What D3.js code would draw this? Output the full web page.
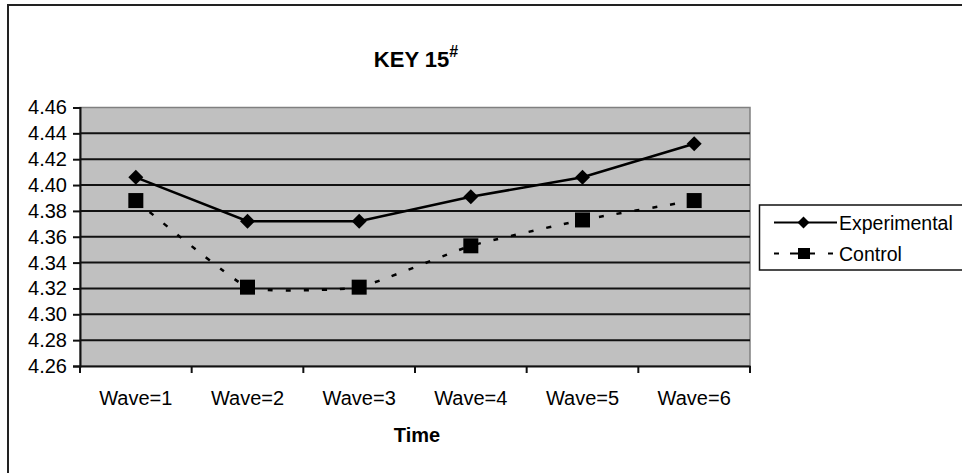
<!DOCTYPE html>
<html>
<head>
<meta charset="utf-8">
<script src="https://cdn.jsdelivr.net/npm/d3@7"></script>
<style>
  html, body { margin: 0; padding: 0; background: #fff; }
  svg { display: block; font-family: "Liberation Sans", Arial, sans-serif; }
</style>
</head>
<body>
<svg id="chart" width="962" height="473"></svg>
<script>
const categories = ["Wave=1", "Wave=2", "Wave=3", "Wave=4", "Wave=5", "Wave=6"];
const experimental = [4.406, 4.372, 4.372, 4.391, 4.406, 4.432];
const control = [4.388, 4.321, 4.321, 4.353, 4.373, 4.388];
const yTicks = [4.26, 4.28, 4.30, 4.32, 4.34, 4.36, 4.38, 4.40, 4.42, 4.44, 4.46];
const seriesNames = ["Experimental", "Control"];
const titleMain = "KEY 15";
const titleSup = "#";
const xTitle = "Time";

const FONT = "Liberation Sans, Arial, sans-serif";
const svg = d3.select("#chart");

// outer frame
svg.append("rect").attr("x", 8).attr("y", 5).attr("width", 970).attr("height", 480)
  .attr("fill", "#fff").attr("stroke", "#222").attr("stroke-width", 2);

const L = 80, R = 750, T = 107.5, B = 366;
const x = d3.scaleBand().domain(categories).range([L, R]).padding(0);
const y = d3.scaleLinear().domain([4.26, 4.46]).range([B, T]);

// plot area
svg.append("rect").attr("x", L).attr("y", T).attr("width", R - L).attr("height", B - T)
  .attr("fill", "#c0c0c0").attr("stroke", "#808080").attr("stroke-width", 1.5);

// gridlines
svg.append("g").selectAll("line").data(yTicks.slice(1, -1)).join("line")
  .attr("x1", L).attr("x2", R).attr("y1", d => y(d)).attr("y2", d => y(d))
  .attr("stroke", "#111").attr("stroke-width", 2);

// y axis
const yAxis = svg.append("g").attr("transform", `translate(${L},0)`)
  .call(d3.axisLeft(y).tickValues(yTicks).tickFormat(d3.format(".2f")).tickSize(7).tickPadding(6));
yAxis.select(".domain").attr("stroke", "#111").attr("stroke-width", 2);
yAxis.selectAll(".tick line").attr("stroke", "#111").attr("stroke-width", 2);
yAxis.selectAll(".tick text").attr("font-size", 20).attr("fill", "#000").attr("font-family", FONT);

// x axis (labels)
const xAxis = svg.append("g").attr("transform", `translate(0,${B})`)
  .call(d3.axisBottom(x).tickSize(0).tickPadding(25));
xAxis.select(".domain").attr("stroke", "#111").attr("stroke-width", 2);
xAxis.selectAll(".tick text").attr("font-size", 20).attr("fill", "#000").attr("font-family", FONT);
// boundary ticks
const bounds = categories.map(c => x(c)).concat([x.range()[1]]);
svg.append("g").selectAll("line").data(bounds).join("line")
  .attr("x1", d => d).attr("x2", d => d).attr("y1", B).attr("y2", B + 7)
  .attr("stroke", "#111").attr("stroke-width", 2);

const cx = d => x(d) + x.bandwidth() / 2;

// control line (smoothed, dotted)
const lineCtrl = d3.line().x((d, i) => cx(categories[i])).y(d => y(d)).curve(d3.curveCardinal.tension(0.6));
svg.append("path").datum(control).attr("d", lineCtrl).attr("fill", "none")
  .attr("stroke", "#000").attr("stroke-width", 2.5).attr("stroke-dasharray", "5,13");

// experimental line
const lineExp = d3.line().x((d, i) => cx(categories[i])).y(d => y(d));
svg.append("path").datum(experimental).attr("d", lineExp).attr("fill", "none")
  .attr("stroke", "#000").attr("stroke-width", 2.5);

// markers
const diamond = (px, py, s) => `M${px},${py - s}L${px + s},${py}L${px},${py + s}L${px - s},${py}Z`;
svg.append("g").selectAll("path").data(experimental).join("path")
  .attr("d", (d, i) => diamond(cx(categories[i]), y(d), 7.5)).attr("fill", "#000");
svg.append("g").selectAll("rect").data(control).join("rect")
  .attr("x", (d, i) => cx(categories[i]) - 7.5).attr("y", d => y(d) - 7.5)
  .attr("width", 15).attr("height", 15).attr("fill", "#000");

// title
const title = svg.append("text").attr("x", 0).attr("y", 66.5)
  .attr("font-size", 22).attr("font-weight", "bold").attr("fill", "#000").attr("font-family", FONT);
title.append("tspan").text(titleMain);
title.append("tspan").attr("dy", -10).attr("font-size", 16).text(titleSup);
{
  const w = title.node().getComputedTextLength();
  title.attr("x", (L + R) / 2 - w / 2 + 1);
}

// x title
svg.append("text").attr("x", (L + R) / 2 + 2).attr("y", 442).attr("text-anchor", "middle")
  .attr("font-size", 20).attr("font-weight", "bold").attr("fill", "#000").attr("font-family", FONT).text(xTitle);

// legend
const lg = svg.append("g");
lg.append("rect").attr("x", 759.5).attr("y", 205).attr("width", 260).attr("height", 65)
  .attr("fill", "#fff").attr("stroke", "#111").attr("stroke-width", 1.5);
const rows = [222.5, 253.5];
// experimental entry
lg.append("line").attr("x1", 774).attr("x2", 837).attr("y1", rows[0]).attr("y2", rows[0])
  .attr("stroke", "#000").attr("stroke-width", 2);
lg.append("path").attr("d", diamond(803.5, rows[0], 6)).attr("fill", "#000");
// control entry
lg.append("line").attr("x1", 774).attr("x2", 837).attr("y1", rows[1]).attr("y2", rows[1])
  .attr("stroke", "#000").attr("stroke-width", 2).attr("stroke-dasharray", "5,11,25,13,5,100");
lg.append("rect").attr("x", 798).attr("y", rows[1] - 5.5).attr("width", 12).attr("height", 11).attr("fill", "#000");
lg.selectAll("text.lbl").data(seriesNames).join("text").attr("class", "lbl")
  .attr("x", 839).attr("y", (d, i) => rows[i] + 7).attr("font-size", 19.5).attr("fill", "#000")
  .attr("font-family", FONT).text(d => d);
</script>
</body>
</html>
